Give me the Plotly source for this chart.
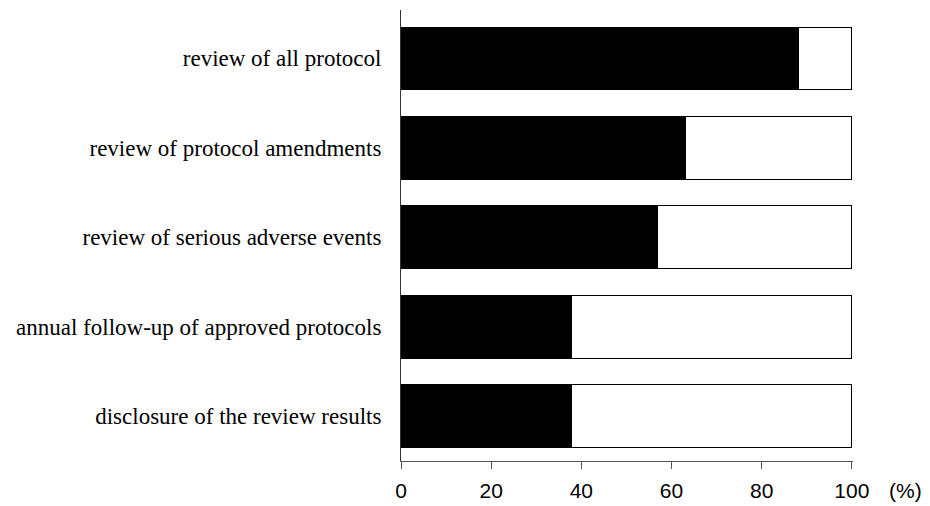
import plotly.graph_objects as go

categories = [
    "review of all protocol",
    "review of protocol amendments",
    "review of serious adverse events",
    "annual follow-up of approved protocols",
    "disclosure of the review results",
]
yes_pct = [88.1, 63.1, 56.8, 37.8, 37.8]
no_pct = [round(100 - v, 1) for v in yes_pct]
x_ticks = [0, 20, 40, 60, 80, 100]

fig = go.Figure()
fig.add_trace(go.Bar(
    y=categories, x=yes_pct, orientation="h",
    marker=dict(color="black", line=dict(color="black", width=1)),
    width=0.70, showlegend=False, hoverinfo="x+y",
))
fig.add_trace(go.Bar(
    y=categories, x=no_pct, orientation="h",
    marker=dict(color="white", line=dict(color="black", width=1)),
    width=0.70, showlegend=False, hoverinfo="x+y",
))

fig.update_layout(
    barmode="stack",
    width=930, height=506,
    margin=dict(l=393, r=85, t=2, b=53),
    paper_bgcolor="white", plot_bgcolor="white",
    xaxis=dict(
        range=[0, 100.25], tickvals=x_ticks, ticktext=[str(v) for v in x_ticks],
        showgrid=False, zeroline=False,
        showline=True, linecolor="#555", linewidth=1,
        ticks="outside", ticklen=7, tickcolor="#555", ticklabelstandoff=4,
        tickfont=dict(family="Liberation Sans", size=21, color="black"),
        fixedrange=True,
    ),
    yaxis=dict(
        categoryorder="array", categoryarray=categories[::-1],
        range=[-0.5, 4.54],
        showgrid=False, zeroline=False,
        showline=True, linecolor="#333", linewidth=1,
        ticks="", ticklabelstandoff=14,
        tickfont=dict(family="Liberation Serif", size=23, color="black"),
        fixedrange=True,
    ),
    annotations=[dict(
        text="(%)", xref="paper", yref="paper", x=1.0, y=0,
        xanchor="left", yanchor="top", xshift=34, yshift=-16, showarrow=False,
        font=dict(family="Liberation Sans", size=21, color="black"),
    )],
)

fig.write_html("out.html")
